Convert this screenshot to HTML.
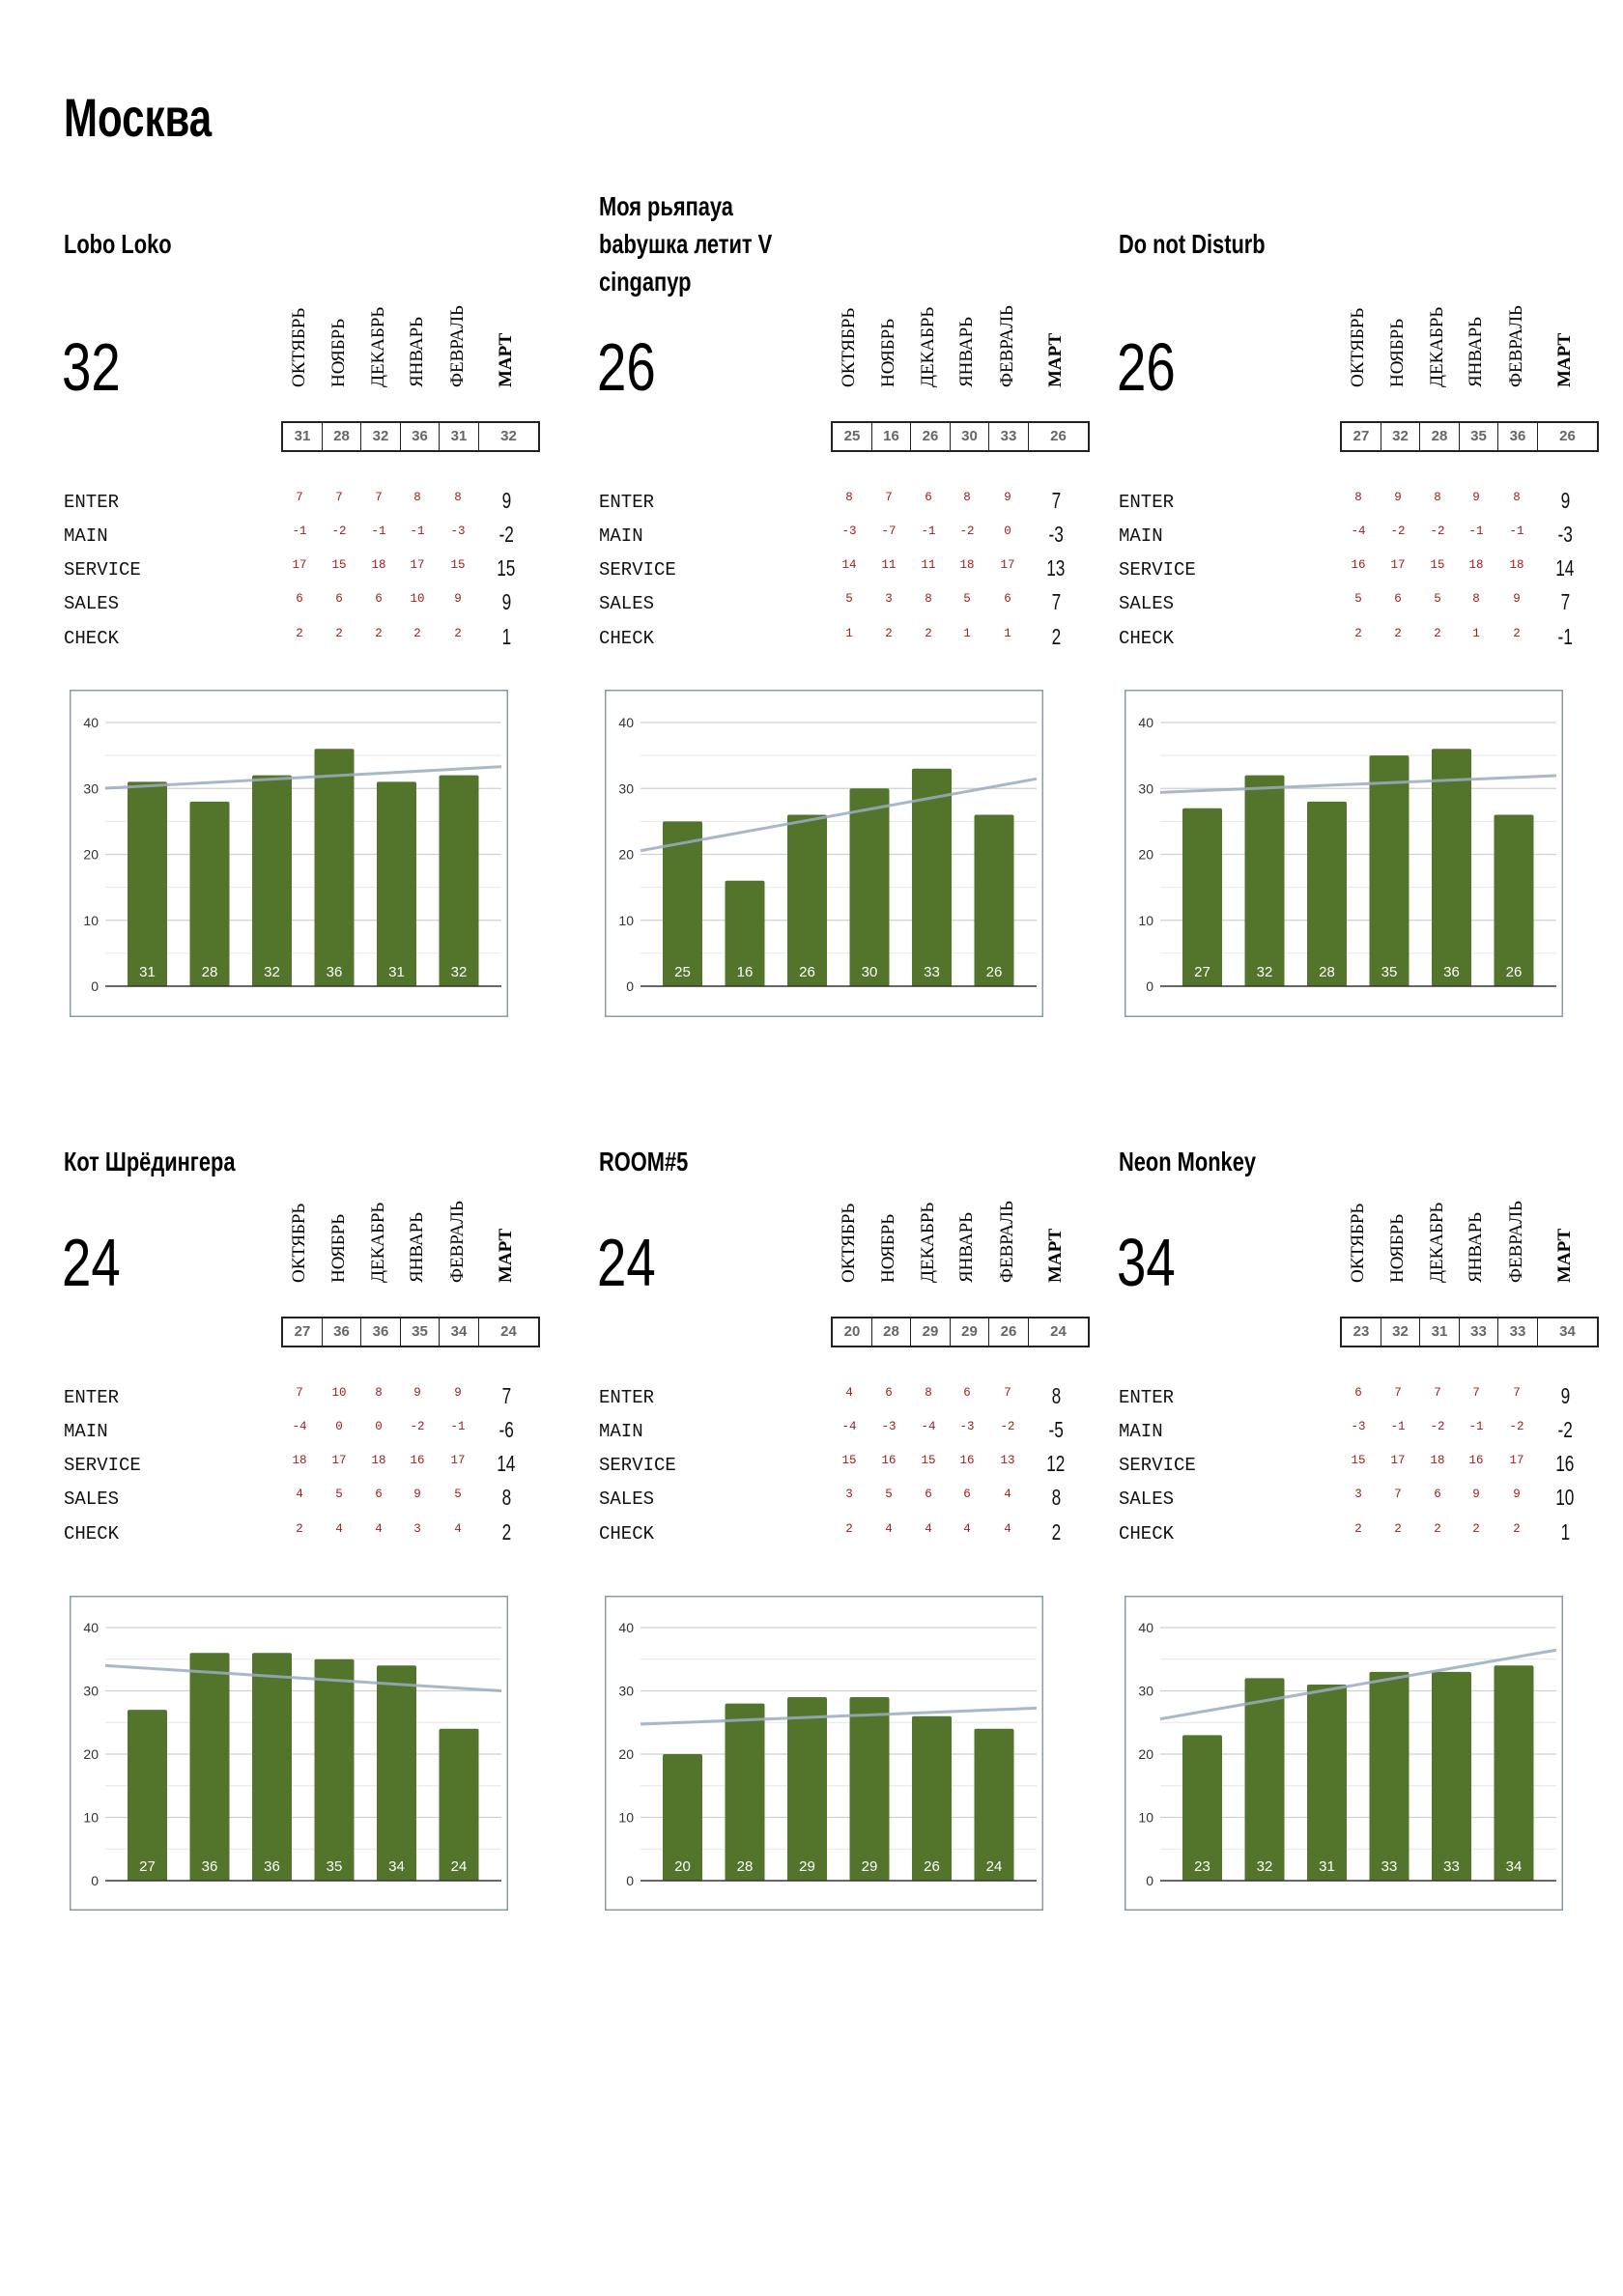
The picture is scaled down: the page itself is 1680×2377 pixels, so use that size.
<!DOCTYPE html>
<html lang="ru">
<head>
<meta charset="utf-8">
<style>
  html,body{margin:0;padding:0;background:#fff;}
  #page{position:relative;width:1680px;height:2377px;overflow:hidden;background:#fff;font-family:"Liberation Sans",sans-serif;}
  .abs{position:absolute;}
  .narrow{display:inline-block;transform-origin:0 50%;white-space:nowrap;}
  .city{left:66px;top:88px;font-size:56px;font-weight:bold;line-height:68px;}
  .title{font-size:28px;font-weight:bold;line-height:39px;}
  .big{font-size:70px;line-height:80px;}
  .month{font-family:"Liberation Serif",serif;font-size:19px;white-space:nowrap;transform:rotate(-90deg);transform-origin:0 0;line-height:20px;}
  .tbl{border:2px solid #222;display:flex;height:28px;box-sizing:content-box;}
  .cell{border-right:1.5px solid #222;color:#666;font-weight:bold;font-size:15px;text-align:center;line-height:28px;box-sizing:border-box;}
  .cell:last-child{border-right:none;}
  .rlabel{font-family:"Liberation Mono",monospace;font-size:19px;color:#111;line-height:22px;}
  .rval{font-family:"Liberation Mono",monospace;font-size:12.5px;color:#a61c1c;width:40px;text-align:center;line-height:16px;}
  .mval{font-size:23px;color:#111;width:50px;text-align:center;line-height:26px;}
</style>
</head>
<body>
<div id="page">
  <div class="abs city"><span class="narrow" style="transform:scaleX(0.75)">Москва</span></div>
</div>
<script>
const panelNames = [["Lobo Loko"],["Моя рьяпауа","babушка летит V","cingапур"],["Do not Disturb"],["Кот Шрёдингера"],["ROOM#5"],["Neon Monkey"]];
const months = ["ОКТЯБРЬ","НОЯБРЬ","ДЕКАБРЬ","ЯНВАРЬ","ФЕВРАЛЬ","МАРТ"];
const rowLabels = ["ENTER","MAIN","SERVICE","SALES","CHECK"];
const totals = [
  [31,28,32,36,31,32],
  [25,16,26,30,33,26],
  [27,32,28,35,36,26],
  [27,36,36,35,34,24],
  [20,28,29,29,26,24],
  [23,32,31,33,33,34]
];
const enterVals = [[7,7,7,8,8,9],[8,7,6,8,9,7],[8,9,8,9,8,9],[7,10,8,9,9,7],[4,6,8,6,7,8],[6,7,7,7,7,9]];
const mainVals = [[-1,-2,-1,-1,-3,-2],[-3,-7,-1,-2,0,-3],[-4,-2,-2,-1,-1,-3],[-4,0,0,-2,-1,-6],[-4,-3,-4,-3,-2,-5],[-3,-1,-2,-1,-2,-2]];
const serviceVals = [[17,15,18,17,15,15],[14,11,11,18,17,13],[16,17,15,18,18,14],[18,17,18,16,17,14],[15,16,15,16,13,12],[15,17,18,16,17,16]];
const salesVals = [[6,6,6,10,9,9],[5,3,8,5,6,7],[5,6,5,8,9,7],[4,5,6,9,5,8],[3,5,6,6,4,8],[3,7,6,9,9,10]];
const checkVals = [[2,2,2,2,2,1],[1,2,2,1,1,2],[2,2,2,1,2,-1],[2,4,4,3,4,2],[2,4,4,4,4,2],[2,2,2,2,2,1]];
const yTicks = [0,10,20,30,40];
const yMax = 40;

const page = document.getElementById('page');
const SVGNS = "http://www.w3.org/2000/svg";
const rowsData = [enterVals, mainVals, serviceVals, salesVals, checkVals];
const colDxA = [0,554,1092];
const colDxB = [0,569,1096];
const monthX = [310,351,392,432,474,524];
const cellW = [41,40,41,40,41,61];
const rowY = [519,554,589,624,660];

function div(cls, parent){ const d=document.createElement('div'); d.className=cls; parent.appendChild(d); return d; }

for(let p=0;p<6;p++){
  const col=p%3, row=Math.floor(p/3);
  const dx=colDxA[col], dxb=colDxB[col], dy=row?927:0;
  const t=div('abs title',page);
  
  
  const lines=panelNames[p];
  const tc=row?1202:252;
  t.style.left=(66+dx)+'px';
  t.style.top=(tc-lines.length*39/2)+'px';
  t.innerHTML=lines.map(l=>'<span class="narrow" style="transform:scaleX(0.78)">'+l+'</span>').join('<br>');
  const b=div('abs big',page);
  
  
  b.style.left=(64+dx)+'px'; b.style.top=(340+dy)+'px';
  b.innerHTML='<span class="narrow" style="transform:scaleX(0.78)">'+totals[p][5]+'</span>';
  months.forEach((m,i)=>{
    const md=div('abs month',page);
    
    
    md.textContent=m;
    if(i===5) md.style.fontWeight='bold';
    md.style.left=(monthX[i]+dxb-10)+'px';
    md.style.top=(401+dy)+'px';
  });
  const tb=div('abs tbl',page);
  
  
  tb.style.left=(291+dxb)+'px'; tb.style.top=(436+dy)+'px';
  totals[p].forEach((v,i)=>{
    const c=div('cell',tb);
    
    
    c.style.width=cellW[i]+'px';
    c.textContent=v;
  });
  rowLabels.forEach((lab,r)=>{
    const l=div('abs rlabel',page);
    
    
    l.textContent=lab;
    l.style.left=(66+dx)+'px'; l.style.top=(rowY[r]+dy-10)+'px';
    rowsData[r][p].forEach((v,i)=>{
      if(i<5){
        const rv=div('abs rval',page);
        
        
        rv.textContent=v;
        rv.style.left=(monthX[i]+dxb-20)+'px'; rv.style.top=(rowY[r]+dy-12)+'px';
      } else {
        const mv=div('abs mval',page);
        
        
        mv.innerHTML='<span class="narrow" style="transform:scaleX(0.75);transform-origin:50% 50%">'+v+'</span>';
        mv.style.left=(monthX[i]+dxb-25)+'px'; mv.style.top=(rowY[r]+dy-14)+'px';
      }
    });
  });
  const fy=row?1652:714, fh=row?326:339, y40=row?33:34, y0=row?295:307;
  const svg=document.createElementNS(SVGNS,'svg');
  
  
  svg.setAttribute('width',454); svg.setAttribute('height',fh);
  svg.style.position='absolute'; svg.style.left=(72+dx)+'px'; svg.style.top=fy+'px';
  page.appendChild(svg);
  const yS=v=>y0-(v/yMax)*(y0-y40);
  const xS=i=>80.5+i*64.5;
  const mk=(tag,attrs)=>{const e=document.createElementNS(SVGNS,tag);for(const k in attrs)e.setAttribute(k,attrs[k]);svg.appendChild(e);return e;};
  const fr=mk('rect',{x:0.75,y:0.75,width:452.5,height:fh-1.5,fill:'#fff',stroke:'#8a9ba6','stroke-width':1.5});
  
  
  for(let v=5;v<yMax;v+=10){
    const g=mk('line',{x1:37,x2:447,y1:yS(v),y2:yS(v),stroke:'#e6e6e6','stroke-width':1});
    
    
  }
  yTicks.forEach(v=>{
    if(v>0){
      const g=mk('line',{x1:37,x2:447,y1:yS(v),y2:yS(v),stroke:'#d0d0d0','stroke-width':1.3});
      
      
    }
    const tl=mk('text',{x:30,y:yS(v)+5,'text-anchor':'end','font-size':14,fill:'#333','font-family':'Liberation Sans, sans-serif'});
    
    
    tl.textContent=v;
  });
  totals[p].forEach((v,i)=>{
    const br=mk('path',{d:`M${xS(i)-20.5},${y0} V${yS(v)+2} Q${xS(i)-20.5},${yS(v)} ${xS(i)-18.5},${yS(v)} H${xS(i)+18.5} Q${xS(i)+20.5},${yS(v)} ${xS(i)+20.5},${yS(v)+2} V${y0} Z`,fill:'#52752b'});
    
    
    const bl=mk('text',{x:xS(i),y:y0-10,'text-anchor':'middle','font-size':15,fill:'#fff','font-family':'Liberation Sans, sans-serif'});
    
    
    bl.textContent=v;
  });
  const ax=mk('line',{x1:37,x2:447,y1:y0,y2:y0,stroke:'#333','stroke-width':1.5});
  
  
  const n=totals[p].length;
  const mx=(n-1)/2, my=totals[p].reduce((a,c)=>a+c,0)/n;
  let sxy=0,sxx=0;
  totals[p].forEach((v,i)=>{sxy+=(i-mx)*(v-my);sxx+=(i-mx)*(i-mx);});
  const slope=sxy/sxx, icpt=my-slope*mx;
  const xa=(37-80.5)/64.5, xb=(447-80.5)/64.5;
  const tr=mk('line',{x1:37,x2:447,y1:yS(icpt+slope*xa),y2:yS(icpt+slope*xb),stroke:'#9aabc0','stroke-width':3,'stroke-opacity':0.85});
  
  
}
</script>
</body>
</html>
